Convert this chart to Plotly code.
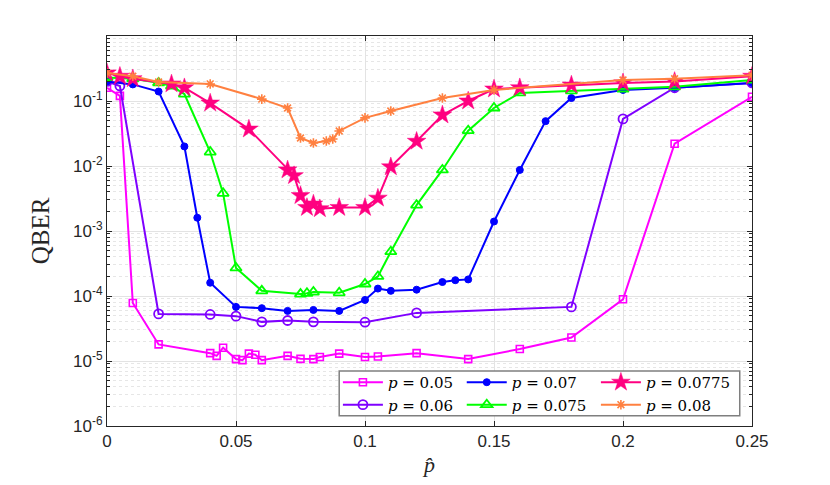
import plotly.graph_objects as go

# ---------------- data ----------------
x_p05 = [0, 0.005, 0.01, 0.02, 0.04, 0.0425, 0.045, 0.05, 0.0525, 0.055, 0.0575, 0.06, 0.07, 0.075, 0.08, 0.0825, 0.09, 0.10, 0.105, 0.12, 0.14, 0.16, 0.18, 0.20, 0.22, 0.25]
y_p05 = [0.16, 0.12, 7.8e-5, 1.8e-5, 1.32e-5, 1.2e-5, 1.6e-5, 1.07e-5, 1.03e-5, 1.3e-5, 1.25e-5, 1.03e-5, 1.2e-5, 1.08e-5, 1.07e-5, 1.15e-5, 1.3e-5, 1.15e-5, 1.17e-5, 1.32e-5, 1.07e-5, 1.53e-5, 2.3e-5, 8.9e-5, 0.022, 0.116]

x_p06 = [0, 0.005, 0.02, 0.04, 0.05, 0.06, 0.07, 0.08, 0.10, 0.12, 0.18, 0.20, 0.22, 0.25]
y_p06 = [0.2, 0.17, 5.3e-5, 5.2e-5, 4.9e-5, 4.0e-5, 4.2e-5, 4.0e-5, 3.95e-5, 5.5e-5, 6.8e-5, 0.053, 0.16, 0.19]

x_p07 = [0, 0.01, 0.02, 0.03, 0.035, 0.04, 0.05, 0.06, 0.07, 0.08, 0.09, 0.10, 0.105, 0.11, 0.12, 0.13, 0.135, 0.14, 0.15, 0.16, 0.17, 0.18, 0.20, 0.22, 0.25]
y_p07 = [0.2, 0.18, 0.14, 0.02, 1.6e-3, 1.6e-4, 6.8e-5, 6.5e-5, 5.9e-5, 6.1e-5, 5.9e-5, 8.7e-5, 1.3e-4, 1.2e-4, 1.25e-4, 1.64e-4, 1.75e-4, 1.8e-4, 1.4e-3, 8.7e-3, 0.049, 0.111, 0.148, 0.16, 0.19]

x_p075 = [0, 0.01, 0.02, 0.025, 0.03, 0.04, 0.045, 0.05, 0.06, 0.075, 0.0775, 0.08, 0.09, 0.10, 0.105, 0.11, 0.12, 0.13, 0.14, 0.15, 0.16, 0.18, 0.20, 0.22, 0.25]
y_p075 = [0.23, 0.22, 0.19, 0.17, 0.128, 0.0164, 3.8e-3, 2.7e-4, 1.2e-4, 1.07e-4, 1.1e-4, 1.15e-4, 1.12e-4, 1.53e-4, 2.0e-4, 4.8e-4, 2.5e-3, 8.7e-3, 0.035, 0.078, 0.133, 0.143, 0.153, 0.165, 0.21]

x_p0775 = [0, 0.005, 0.01, 0.025, 0.03, 0.04, 0.055, 0.07, 0.0725, 0.075, 0.0775, 0.08, 0.0825, 0.09, 0.10, 0.105, 0.11, 0.12, 0.13, 0.14, 0.15, 0.16, 0.18, 0.20, 0.22, 0.25]
y_p0775 = [0.27, 0.24, 0.22, 0.183, 0.16, 0.093, 0.037, 0.0087, 0.0071, 0.0035, 0.0023, 0.0026, 0.0022, 0.0023, 0.0023, 0.0032, 0.0097, 0.024, 0.061, 0.10, 0.153, 0.16, 0.176, 0.19, 0.20, 0.24]

x_p08 = [0, 0.01, 0.02, 0.04, 0.06, 0.07, 0.075, 0.08, 0.085, 0.0875, 0.09, 0.10, 0.11, 0.13, 0.15, 0.20, 0.22, 0.25]
y_p08 = [0.27, 0.24, 0.196, 0.183, 0.107, 0.078, 0.027, 0.0226, 0.0243, 0.026, 0.0346, 0.055, 0.070, 0.111, 0.148, 0.21, 0.22, 0.25]

series_names = ["p = 0.05", "p = 0.06", "p = 0.07", "p = 0.075", "p = 0.0775", "p = 0.08"]

x_ticks = [0, 0.05, 0.1, 0.15, 0.2, 0.25]
x_ticklabels = ["0", "0.05", "0.1", "0.15", "0.2", "0.25"]
y_ticks = [1e-6, 1e-5, 1e-4, 1e-3, 1e-2, 1e-1]
y_ticklabels = ["10<sup>-6</sup>", "10<sup>-5</sup>", "10<sup>-4</sup>", "10<sup>-3</sup>", "10<sup>-2</sup>", "10<sup>-1</sup>"]

# ---------------- styles ----------------
styles = [
    dict(color="#FF00FF", symbol="square-open", size=7, lw=1.6),
    dict(color="#7F00FF", symbol="circle-open", size=9, lw=1.8),
    dict(color="#0000FF", symbol="circle", size=7, lw=1.0),
    dict(color="#00FF00", symbol="triangle-up-open", size=10, lw=1.8),
    dict(color="#FF0080", symbol="star", size=14, lw=0.5),
    dict(color="#FF8040", symbol="asterisk-open", size=8, lw=1.6),
]
legend_ids = ["legend", "legend", "legend2", "legend2", "legend3", "legend3"]

data = [(x_p05, y_p05), (x_p06, y_p06), (x_p07, y_p07),
        (x_p075, y_p075), (x_p0775, y_p0775), (x_p08, y_p08)]

fig = go.Figure()
for (xs, ys), name, st, lg in zip(data, series_names, styles, legend_ids):
    label = "<i>p</i> = " + name.split("= ")[1]
    fig.add_trace(go.Scatter(
        x=xs, y=ys, mode="lines+markers", name=label, legend=lg,
        line=dict(color=st["color"], width=2),
        marker=dict(symbol=st["symbol"], size=st["size"], color=st["color"],
                    line=dict(color=st["color"], width=st["lw"])),
    ))

axis_common = dict(
    showline=True, linecolor="#262626", linewidth=1, mirror="ticks",
    ticks="inside", ticklen=5, tickcolor="#262626",
    showgrid=True, gridcolor="#E3E3E3", gridwidth=1,
    zeroline=False,
    tickfont=dict(family="Liberation Sans", size=17, color="#262626"),
)

fig.update_xaxes(
    range=[0, 0.25], tickvals=x_ticks, ticktext=x_ticklabels,
    title=dict(text="<i>p\u0302</i>", font=dict(family="Liberation Serif", size=22, color="#262626"), standoff=6),
    **axis_common,
)
fig.update_yaxes(
    type="log", range=[-6, 0], tickvals=y_ticks, ticktext=y_ticklabels,
    title=dict(text="QBER", font=dict(family="Liberation Serif", size=25, color="#262626"), standoff=16),
    minor=dict(ticks="inside", ticklen=3, tickcolor="#262626", showgrid=True,
               gridcolor="#E6E6E6", griddash="dot", gridwidth=1, dtick="D1"),
    **axis_common,
)

# legend frame (white box with grey border), legends drawn on top
fig.add_shape(type="rect", xref="paper", yref="paper",
              x0=0.36, x1=0.981, y0=0.026, y1=0.141, layer="above",
              fillcolor="white", line=dict(color="#7F7F7F", width=1.5))

leg_common = dict(
    orientation="v", yanchor="top", y=0.154, xanchor="left",
    bgcolor="rgba(0,0,0,0)", borderwidth=0,
    font=dict(family="DejaVu Serif", size=15, color="black"),
    itemwidth=40, tracegroupgap=0,
)

fig.update_layout(
    width=830, height=485,
    margin=dict(l=99, r=86, t=28, b=67),
    plot_bgcolor="white", paper_bgcolor="white",
    legend=dict(x=0.358, **leg_common),
    legend2=dict(x=0.550, **leg_common),
    legend3=dict(x=0.758, **leg_common),
    showlegend=True,
)

fig.write_html("out.html")
